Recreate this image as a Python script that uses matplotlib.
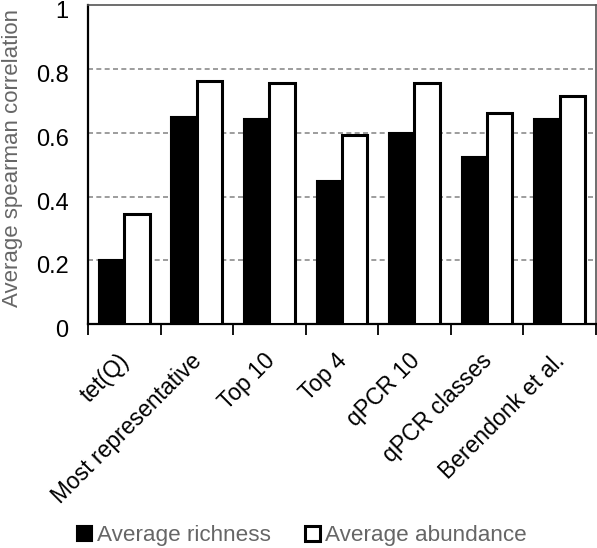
import numpy as np
import matplotlib.pyplot as plt
from matplotlib.transforms import ScaledTranslation

plt.rcParams['font.family'] = ['Liberation Sans', 'DejaVu Sans']

categories = ["tet(Q)", "Most representative", "Top 10", "Top 4",
              "qPCR 10", "qPCR classes", "Berendonk et al."]
richness = [0.20, 0.65, 0.645, 0.45, 0.60, 0.523, 0.645]
abundance = [0.345, 0.764, 0.757, 0.592, 0.757, 0.663, 0.715]

fig = plt.figure(figsize=(5.97, 5.48), dpi=100)
ax = fig.add_axes([0.1474, 0.4088, 0.8506, 0.5812])

x = np.arange(len(categories))
w = 0.35
ax.bar(x - w / 2, richness, w, color='black', edgecolor='black', linewidth=1.5,
       label='Average richness', zorder=3)
ax.bar(x + w / 2, abundance, w, color='white', edgecolor='black', linewidth=2.2,
       label='Average abundance', zorder=3)

ax.set_xlim(-0.5, len(categories) - 0.5)
ax.set_ylim(0, 1)
ax.set_yticks([0, 0.2, 0.4, 0.6, 0.8, 1])
ax.set_yticklabels(['0', '0.2', '0.4', '0.6', '0.8', '1'], fontsize=17)
ax.tick_params(axis='y', length=0, pad=14)
# labels in the reference sit a few pixels below their gridlines
shift_y = ScaledTranslation(0, -0.045, fig.dpi_scale_trans)
for lab in ax.get_yticklabels():
    lab.set_transform(lab.get_transform() + shift_y)
for yv in [0.2, 0.4, 0.6, 0.8]:
    ax.axhline(yv, color='#8c8c8c', linestyle=(0, (3, 2)), linewidth=1.2, zorder=1)

ax.set_xticks(x)
ax.set_xticklabels(categories, rotation=45, ha='right', rotation_mode='anchor',
                   fontsize=16.5)
ax.tick_params(axis='x', which='major', length=0, pad=18)
shift_x = ScaledTranslation(-0.065, 0, fig.dpi_scale_trans)
for lab in ax.get_xticklabels():
    lab.set_transform(lab.get_transform() + shift_x)
ax.set_xticks(np.arange(len(categories) + 1) - 0.5, minor=True)
ax.tick_params(axis='x', which='minor', length=8, width=1.3, direction='out')

ax.set_ylabel('Average spearman correlation', fontsize=16, color='#666666')
ax.yaxis.set_label_coords(-0.128, 0.521)

for s in ['left', 'bottom']:
    ax.spines[s].set_linewidth(1.6)
for s in ['top', 'right']:
    ax.spines[s].set_color('#555555')
    ax.spines[s].set_linewidth(1.2)

leg = fig.legend(loc='center', bbox_to_anchor=(0.506, 0.022), ncol=2,
                 frameon=False, fontsize=16.2, handlelength=0.65, handleheight=0.65,
                 handletextpad=0.25, columnspacing=1.5, borderpad=0)
for t in leg.get_texts():
    t.set_color('#666666')

fig.savefig('out.png', dpi=100)
